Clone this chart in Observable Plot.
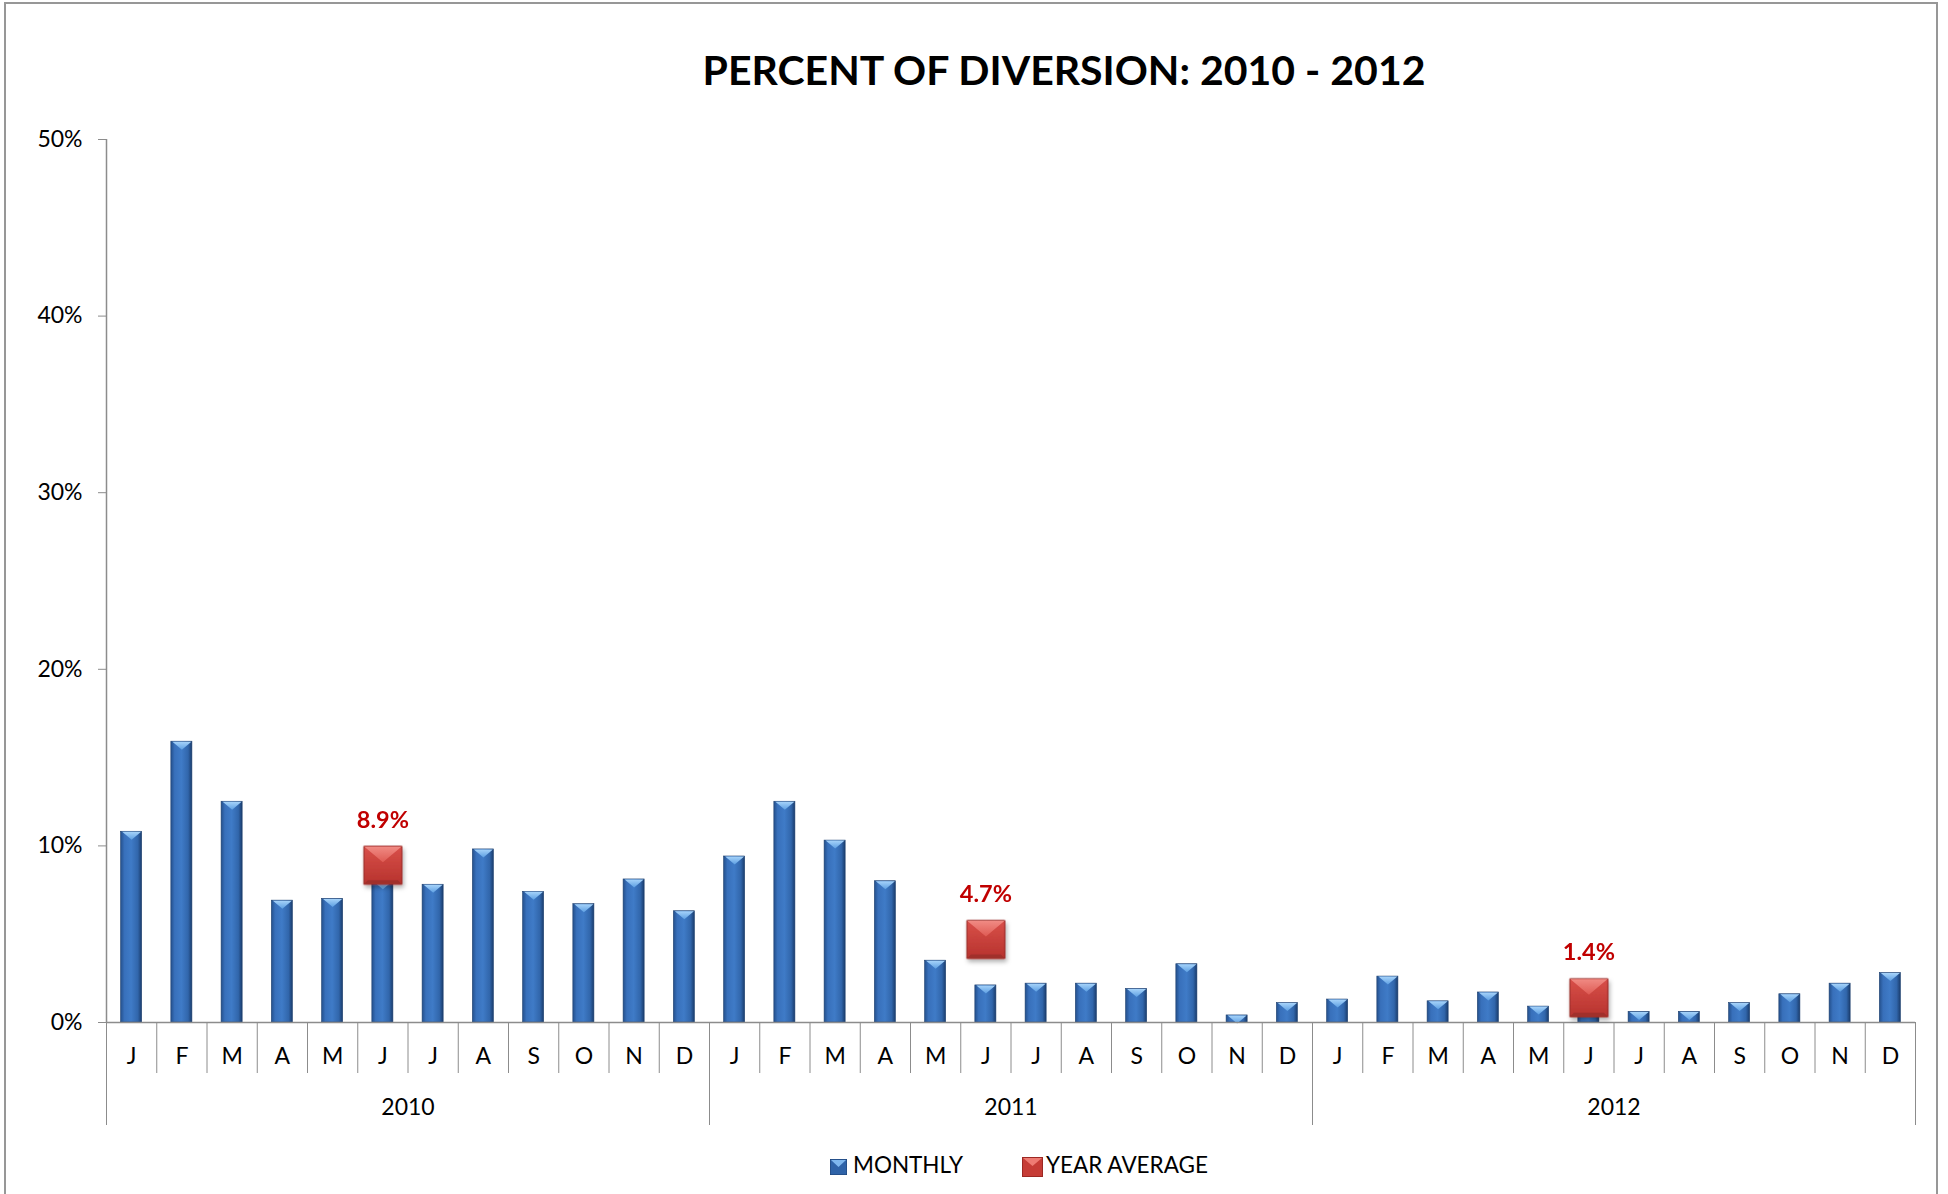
<!DOCTYPE html>
<html><head><meta charset="utf-8">
<script src="https://cdn.jsdelivr.net/npm/d3@7"></script>
<script src="https://cdn.jsdelivr.net/npm/@observablehq/plot@0.6"></script>
<style>
html,body{margin:0;padding:0;background:#fff;}
body{width:1948px;height:1194px;position:relative;overflow:hidden;font-family:Lato,sans-serif;}
#frame{position:absolute;left:4px;top:2px;width:1934px;height:1260px;border:2px solid #979797;box-sizing:border-box;}
#title{position:absolute;left:564px;width:1000px;top:49px;text-align:center;font-weight:700;font-size:41px;line-height:41px;color:#000;white-space:nowrap;}
#chart{position:absolute;left:0;top:100px;}
.lg-text{position:absolute;top:1154px;font-size:22.5px;line-height:22.5px;color:#000;white-space:nowrap;}
.lg-sw{position:absolute;}
</style></head><body>
<div id="frame"></div>
<div id="title">PERCENT OF DIVERSION: 2010 - 2012</div>
<div id="chart"></div>
<div id="legend"></div>
<script>
// ---- data ----
const months = ["J","F","M","A","M","J","J","A","S","O","N","D"];
const years = ["2010","2011","2012"];
const monthly2010 = [10.8, 15.9, 12.5, 6.9, 7.0, 8.0, 7.8, 9.8, 7.4, 6.7, 8.1, 6.3];
const monthly2011 = [9.4, 12.5, 10.3, 8.0, 3.5, 2.1, 2.2, 2.2, 1.9, 3.3, 0.4, 1.1];
const monthly2012 = [1.3, 2.6, 1.2, 1.7, 0.9, 0.8, 0.6, 0.6, 1.1, 1.6, 2.2, 2.8];
const yearAverage = [8.9, 4.7, 1.4];
const yearAverageLabels = ["8.9%", "4.7%", "1.4%"];
const yTicks = [0, 10, 20, 30, 40, 50];
const averageMonth = 5; // shown at June
const legendLabels = ["MONTHLY", "YEAR AVERAGE"];

// ---- tables built from the arrays ----
const monthlySeries = [monthly2010, monthly2011, monthly2012];
const monthlyRows = monthlySeries.flatMap((vals, yi) =>
  vals.map((v, mi) => ({i: yi * months.length + mi, month: months[mi], year: years[yi], value: v})));
const avgRows = yearAverage.map((v, yi) =>
  ({i: yi * months.length + averageMonth, value: v, label: yearAverageLabels[yi]}));
const nCat = years.length * months.length;

const AXIS = "#8c8c8c";
const barTop = {draw(c){ c.moveTo(-9.5,0); c.lineTo(9.5,0); c.lineTo(0,8); c.closePath(); }};
const square = {draw(c){ c.moveTo(-19,-19); c.lineTo(19,-19); c.lineTo(19,19); c.lineTo(-19,19); c.closePath(); }};
const squareTop = {draw(c){ c.moveTo(-18.5,-18.5); c.lineTo(18.5,-18.5); c.lineTo(0,-3); c.closePath(); }};
const squareBottom = {draw(c){ c.moveTo(-18.5,18.5); c.lineTo(18.5,18.5); c.lineTo(15,15); c.lineTo(-15,15); c.closePath(); }};
const cx = d => d.i + 0.5;

const svg = Plot.plot({
  width: 1948, height: 1040,
  marginTop: 39, marginBottom: 118, marginLeft: 106, marginRight: 33,
  style: {fontFamily: "Lato, sans-serif", fontSize: "23px", color: "#000", background: "transparent"},
  x: {type: "linear", domain: [0, nCat], axis: null},
  y: {domain: [0, 50], axis: null, label: null},
  marks: [
    Plot.ruleX([0], {stroke: AXIS, strokeWidth: 1.5}),
    Plot.axisY({ticks: yTicks, tickSize: 8, tickPadding: 16, tickFormat: d => d + "%", stroke: AXIS, label: null, fontSize: 23}),
    Plot.rectY(monthlyRows, {x1: "i", x2: d => d.i + 1, y1: 0, y2: "value", insetLeft: 14.6, insetRight: 14.6, fill: "url(#barGrad)", stroke: "#1d3f6e", strokeWidth: 0.6}),
    Plot.dot(monthlyRows, {x: cx, y: "value", symbol: barTop, fill: "url(#barTopGrad)", stroke: "none"}),
    Plot.ruleY([0], {stroke: AXIS, strokeWidth: 1.5}),
    Plot.axisX({ticks: d3.range(0, nCat + 1), tickSize: 51, tickFormat: () => "", stroke: AXIS, label: null}),
    Plot.axisX({ticks: years.map((_, k) => k * months.length), tickSize: 103, tickFormat: () => "", stroke: AXIS, label: null}),
    Plot.axisX({ticks: [nCat], tickSize: 103, tickFormat: () => "", stroke: AXIS, label: null}),
    Plot.axisX({ticks: d3.range(nCat).map(i => i + 0.5), tickSize: 0, tickPadding: 25, tickFormat: d => months[Math.floor(d) % months.length], label: null, fontSize: 23}),
    Plot.axisX({ticks: years.map((_, k) => k * months.length + months.length / 2), tickSize: 0, tickPadding: 76, tickFormat: d => years[Math.floor(d / months.length)], label: null, fontSize: 23}),
    Plot.dot(avgRows, {x: cx, y: "value", symbol: square, fill: "url(#redGrad)", stroke: "#962521", strokeWidth: 1}),
    Plot.dot(avgRows, {x: cx, y: "value", symbol: squareTop, fill: "url(#redTopGrad)", stroke: "none"}),
    Plot.dot(avgRows, {x: cx, y: "value", symbol: squareBottom, fill: "#a0302b", stroke: "none"}),
    Plot.text(avgRows, {x: cx, y: "value", text: "label", dy: -45, fill: "#c00000", fontWeight: "bold", fontSize: 23.5})
  ]
});

d3.select(svg).insert("defs", ":first-child").html(`
  <linearGradient id="barGrad" x1="0" x2="1" y1="0" y2="0">
    <stop offset="0" stop-color="#24508c"/>
    <stop offset="0.18" stop-color="#3870bb"/>
    <stop offset="0.5" stop-color="#3f7bc7"/>
    <stop offset="0.82" stop-color="#3166ab"/>
    <stop offset="1" stop-color="#1a3c6c"/>
  </linearGradient>
  <linearGradient id="barTopGrad" x1="0" x2="0" y1="0" y2="1">
    <stop offset="0" stop-color="#a6d3fa"/>
    <stop offset="1" stop-color="#5d9fe2"/>
  </linearGradient>
  <linearGradient id="redGrad" x1="0" x2="0" y1="0" y2="1">
    <stop offset="0" stop-color="#d9504a"/>
    <stop offset="1" stop-color="#b7332e"/>
  </linearGradient>
  <linearGradient id="redTopGrad" x1="0" x2="0" y1="0" y2="1">
    <stop offset="0" stop-color="#f08a83"/>
    <stop offset="1" stop-color="#de5a53"/>
  </linearGradient>
  <filter id="shadow" x="-40%" y="-40%" width="180%" height="190%">
    <feDropShadow dx="1.5" dy="3" stdDeviation="2.2" flood-color="#000" flood-opacity="0.3"/>
  </filter>`);
d3.select(svg).selectAll('g[fill="url(#redGrad)"]').attr("filter", "url(#shadow)");
document.getElementById("chart").appendChild(svg);

// ---- legend ----
const legend = document.getElementById("legend");
legend.innerHTML = `
  <svg class="lg-sw" style="left:830px;top:1159px" width="17" height="16">
    <rect x="0" y="0" width="17" height="16" fill="#2f63a8" stroke="#1d3f6e" stroke-width="1"/>
    <path d="M1,1 L16,1 L8.5,8 Z" fill="#7fb7ee"/>
  </svg>
  <div class="lg-text" style="left:853px">${legendLabels[0]}</div>
  <svg class="lg-sw" style="left:1022px;top:1157px" width="21" height="20">
    <rect x="0.5" y="0.5" width="20" height="19" fill="#c63c36" stroke="#9c2823" stroke-width="1"/>
    <path d="M1,1 L20,1 L10.5,9 Z" fill="#ee7b73"/>
  </svg>
  <div class="lg-text" style="left:1046px">${legendLabels[1]}</div>`;
</script>
</body></html>
